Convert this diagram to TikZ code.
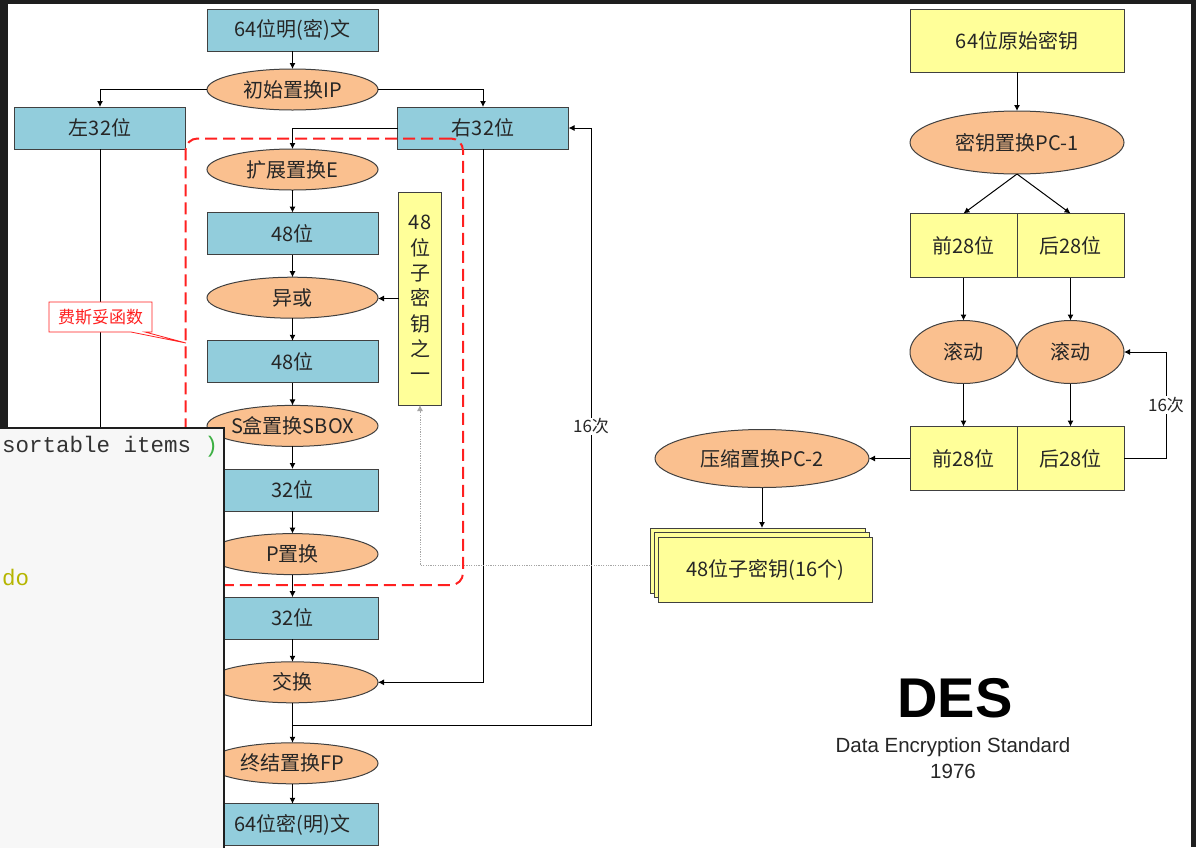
\documentclass[tikz,border=0pt]{standalone}
\usepackage{fontspec}
\usepackage{tikz}
\usetikzlibrary{shapes.geometric, shapes.callouts, arrows.meta, positioning, fit}

\newfontfamily\cjkfont{Noto Sans CJK SC}
\newfontfamily\arialfont{Liberation Sans}
\newfontfamily\codefont{Liberation Mono}

\definecolor{boxblue}{HTML}{92CDDC}
\definecolor{peach}{HTML}{FAC08F}
\definecolor{keyyellow}{HTML}{FFFF99}
\definecolor{linegray}{HTML}{404040}
\definecolor{textgray}{HTML}{262626}
\definecolor{fred}{HTML}{FF2020}
\definecolor{framedark}{HTML}{1E1E1E}
\definecolor{codebg}{HTML}{F7F7F7}
\definecolor{codegray}{HTML}{333333}
\definecolor{codegreen}{HTML}{3CB043}
\definecolor{codeolive}{HTML}{B5B500}

\begin{document}
\begin{tikzpicture}[
    x=1pt, y=-1pt,
    node distance=22.6pt and 0pt,
    every node/.style={font=\cjkfont\fontsize{20}{24}\selectfont, text=textgray, outer sep=0pt},
    box/.style={rectangle, draw=linegray, line width=1pt, minimum width=171pt, minimum height=42pt, inner sep=0pt},
    blk/.style={box, fill=boxblue},
    keyblk/.style={box, fill=keyyellow},
    half/.style={minimum width=107pt, minimum height=64pt},
    proc/.style={ellipse, draw=linegray, line width=1pt, fill=peach, minimum width=171pt, minimum height=41pt, inner xsep=-20pt, inner ysep=0pt},
    arrow/.style={-{Latex[length=6pt, width=6pt]}, line width=1pt},
    dotline/.style={-{Latex[length=6pt, width=6pt]}, gray!70, line width=0.8pt, dash pattern=on 1.2pt off 1.2pt},
    count/.style={fill=white, font=\cjkfont\fontsize{17}{20}\selectfont, inner sep=1pt},
]
\useasboundingbox (0,0) rectangle (1196,847);
\fill[white] (0,0) rectangle (1196,847);

% Encryption path
\node[blk] (plain) at (292.5,30) {64位明(密)文};
\node[proc, below=18pt of plain] (ip) {初始置换IP};
\node[blk] (left32) at (100,128) {左32位};
\node[blk] (right32) at (483,128) {右32位};
\node[proc, below=39pt of ip] (expand) {扩展置换E};
\node[blk, below=of expand] (bits48a) {48位};
\node[proc, below=of bits48a] (xor) {异或};
\node[blk, below=of xor] (bits48b) {48位};
\node[proc, below=of bits48b] (sbox) {S盒置换SBOX};
\node[blk, below=of sbox] (bits32a) {32位};
\node[proc, below=of bits32a] (pperm) {P置换};
\node[blk, below=of pperm] (bits32b) {32位};
\node[proc, below=of bits32b] (swap) {交换};
\node[proc, below=40pt of swap] (fp) {终结置换FP};
\node[blk, below=20pt of fp] (cipher) {64位密(明)文};

% Round subkey
\node[keyblk, minimum width=43pt, minimum height=213pt, align=center, font=\cjkfont\fontsize{20}{25.3}\selectfont] (subkey) at (420,298.5) {48\\位\\子\\密\\钥\\之\\一};

% Key schedule
\node[keyblk, minimum width=214pt, minimum height=63pt] (key64) at (1017,40.5) {64位原始密钥};
\node[proc, minimum width=214pt, minimum height=63pt, below=39pt of key64] (pc1) {密钥置换PC-1};
\node[keyblk, half] (front1) at (963.5,245.5) {前28位};
\node[keyblk, half, right=0pt of front1] (back1) {后28位};
\node[proc, minimum width=107pt, minimum height=63pt, below=43pt of front1] (rollA) {滚动};
\node[proc, minimum width=107pt, minimum height=63pt, right=0pt of rollA] (rollB) {滚动};
\node[keyblk, half, below=43pt of rollA] (front2) {前28位};
\node[keyblk, half, right=0pt of front2] (back2) {后28位};
\node[proc, minimum width=214pt, minimum height=58pt, left=41pt of front2] (pc2) {压缩置换PC-2};

% Stack of subkeys
\node[keyblk, minimum width=215pt, minimum height=65pt] (sk1) at (757.5,560.5) {};
\node[keyblk, minimum width=215pt, minimum height=65pt, xshift=4pt, yshift=-4.5pt] (sk2) at (sk1) {};
\node[keyblk, minimum width=214pt, minimum height=65pt, xshift=8pt, yshift=-9pt] (sk3) at (sk1) {48位子密钥(16个)};

% Arrows
\draw[arrow] (plain) -- (ip);
\draw[arrow] (ip.west) -| (left32);
\draw[arrow] (ip.east) -| (right32);
\draw[arrow] (right32.west) -| (expand);
\draw[arrow] (expand) -- (bits48a);
\draw[arrow] (bits48a) -- (xor);
\draw[arrow] (xor) -- (bits48b);
\draw[arrow] (bits48b) -- (sbox);
\draw[arrow] (sbox) -- (bits32a);
\draw[arrow] (bits32a) -- (pperm);
\draw[arrow] (pperm) -- (bits32b);
\draw[arrow] (bits32b) -- (swap);
\draw[arrow] (left32) |- (swap.west);
\draw[arrow] (right32) |- (swap.east);
\draw[arrow] (swap) -- (fp);
\draw[arrow] (fp) -- (cipher);
\coordinate (roundtap) at (292.5,725);
\coordinate (roundtop) at (591,128);
\draw[arrow] (roundtap) -| node[count, pos=0.75] {16次} (roundtop) -- (right32.east);
\draw[arrow] (subkey.west) -- (subkey.west -| xor.east);
\draw[dotline] ([yshift=-4.5pt]sk1.west) -| (subkey.south);

\draw[arrow] (key64) -- (pc1);
\draw[arrow] (pc1.south) -- (front1.north);
\draw[arrow] (pc1.south) -- (back1.north);
\draw[arrow] (front1) -- (rollA);
\draw[arrow] (back1) -- (rollB);
\draw[arrow] (rollA) -- (front2);
\draw[arrow] (rollB) -- (back2);
\draw[arrow] (back2.east) -- ++(42,0) |- node[count, pos=0.25] {16次} (rollB.east);
\draw[arrow] (front2) -- (pc2);
\draw[arrow] (pc2.south) -- (pc2.south |- sk1.north);

% Feistel function
\node[rectangle callout, callout absolute pointer={(186,343)}, callout pointer width=14pt, draw=fred, fill=white, text=fred, line width=0.8pt, minimum width=103pt, minimum height=30pt, inner sep=0pt, font=\cjkfont\fontsize{17}{20}\selectfont] (feistel) at (100.5,317) {费斯妥函数};
\node[fit=(expand)(pperm)(subkey), draw=fred, line width=2pt, dash pattern=on 12pt off 6pt, rounded corners=12pt, inner xsep=21.5pt, inner ysep=10.5pt] (ffunc) {};

% Title
\node[font=\arialfont\bfseries\fontsize{56}{60}\selectfont, text=black] (des) at (955,698) {DES};
\node[font=\arialfont\fontsize{20.5}{26}\selectfont, text=textgray, align=center] (desname) at (953,758) {Data Encryption Standard\\1976};

% Screen frame and code window
\fill[framedark] (0,0) rectangle (1196,3.5);
\fill[framedark] (0,0) rectangle (8,428);
\fill[framedark] (1191,0) rectangle (1196,847);
\filldraw[fill=codebg, draw=framedark, line width=1.5pt] (-2,428) rectangle (224,850);
\node[anchor=west, inner sep=0pt, font=\codefont\fontsize{22.5}{26}\selectfont, text=codegray] (codeline) at (2,447) {sortable items \textcolor{codegreen}{)}};
\node[anchor=west, inner sep=0pt, font=\codefont\fontsize{22.5}{26}\selectfont, text=codeolive] (codedo) at (2,577) {do};
\end{tikzpicture}
\end{document}
